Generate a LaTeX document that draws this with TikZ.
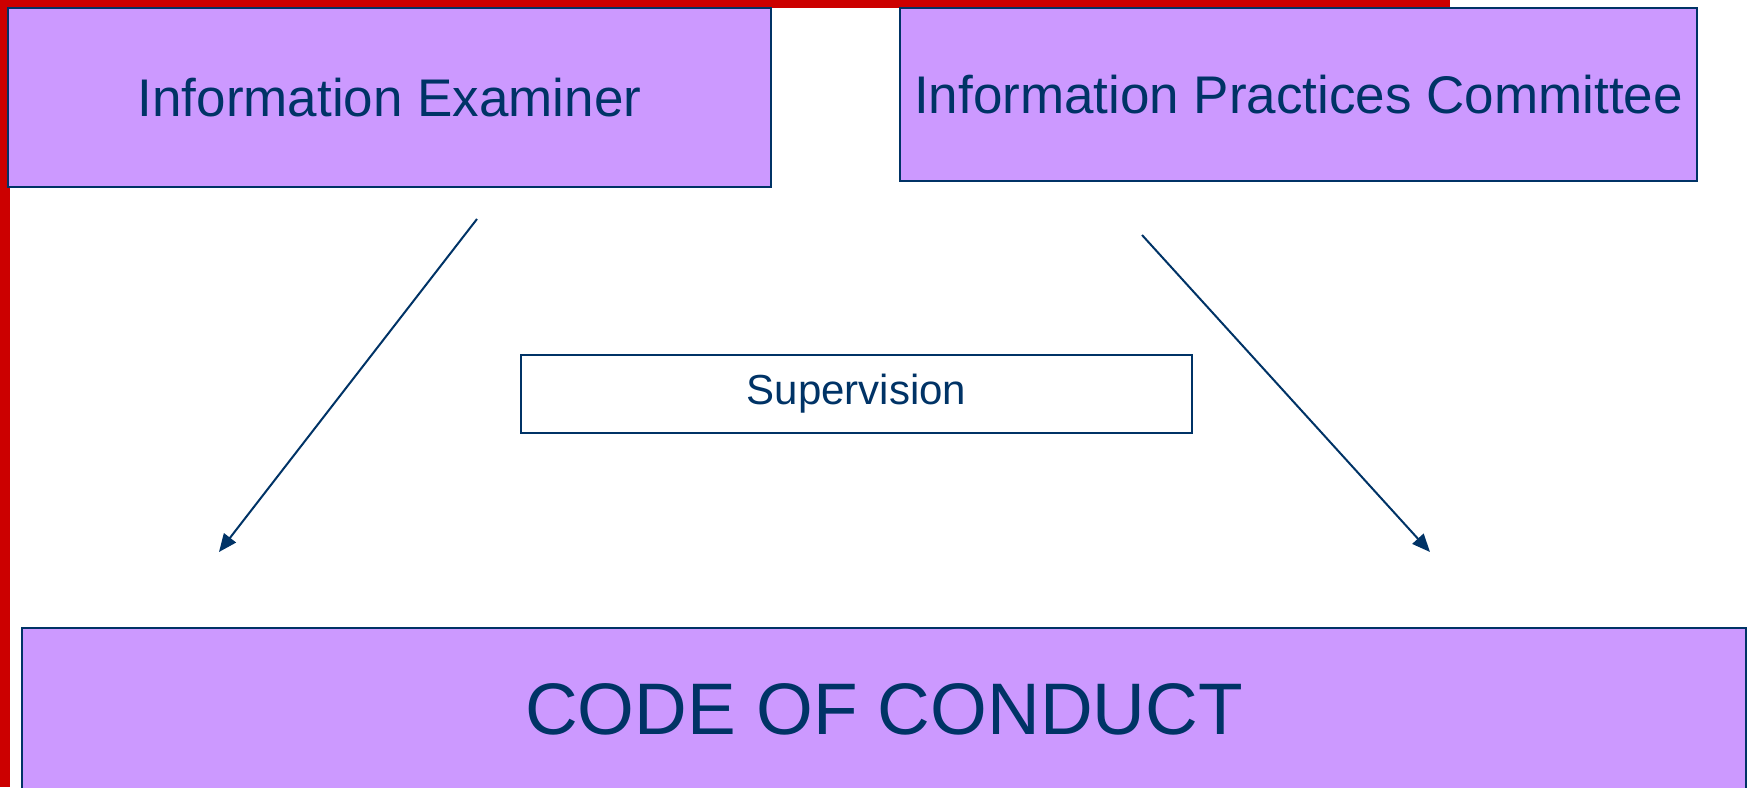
\documentclass[tikz,border=0pt]{standalone}
\usepackage{fontspec}
\setmainfont{Liberation Sans}
\usepackage{tikz}
\usetikzlibrary{arrows.meta}

\definecolor{navy}{HTML}{003366}
\definecolor{lilac}{HTML}{CC99FF}
\definecolor{redbar}{HTML}{CC0000}

\begin{document}
\begin{tikzpicture}[x=1pt, y=-1pt,
        bodybox/.style={rectangle, draw=navy, line width=2pt, fill=lilac, text=navy, inner sep=0pt},
        notebox/.style={rectangle, draw=navy, line width=2pt, fill=white, text=navy, inner sep=0pt},
        supline/.style={-{Triangle[length=18pt,width=15pt]}, draw=navy, line width=2pt}]
        \useasboundingbox (0,0) rectangle (1747,787);
        % red frame pieces
        \fill[redbar] (0,0) rectangle (10,787);
        \fill[redbar] (0,0) rectangle (1450,8);

        \node[bodybox, minimum width=763pt, minimum height=179pt] at (389.5, 97.5) (examiner) {\fontsize{53}{60}\selectfont Information Examiner};
        \node[bodybox, minimum width=797pt, minimum height=173pt] at (1298.5, 94.5) (committee) {\fontsize{53}{60}\selectfont Information Practices Committee};
        \node[notebox, minimum width=671pt, minimum height=78pt] at (856.5, 394) (supervision) {\fontsize{42}{48}\selectfont Supervision};
        \node[bodybox, minimum width=1724pt, minimum height=162pt] at (884, 709) (code) {\fontsize{73}{84}\selectfont CODE OF CONDUCT};

        \coordinate (exfrom) at (477, 219);
        \coordinate (exto) at (219, 552);
        \coordinate (cofrom) at (1142, 235);
        \coordinate (coto) at (1430, 552);
        \draw[supline] (exfrom) -- (exto);
        \draw[supline] (cofrom) -- (coto);
    \end{tikzpicture}
\end{document}
